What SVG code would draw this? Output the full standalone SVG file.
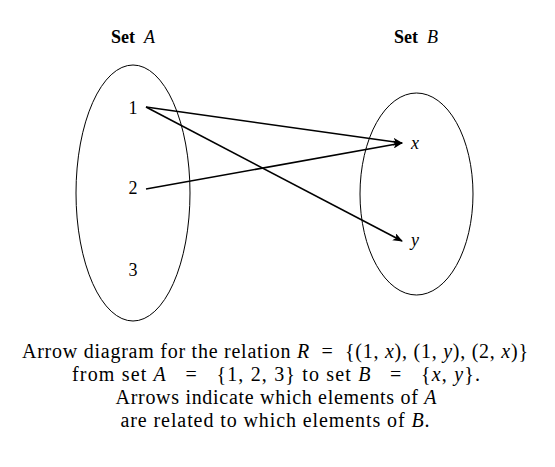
<svg xmlns="http://www.w3.org/2000/svg" width="555" height="467" viewBox="0 0 555 467">
<defs>
<style>
text{font-family:"Liberation Serif","DejaVu Serif",serif;fill:#000}
.lbl{font-size:18px;text-anchor:middle}
.b{font-weight:bold}
.i{font-style:italic}
.cap{font-size:20px;text-anchor:middle}
.set{fill:none;stroke:#000;stroke-width:1}
.arr{fill:none;stroke:#000;stroke-width:1.6;marker-end:url(#ah)}
</style>
<marker id="ah" markerWidth="10" markerHeight="8" refX="9" refY="4" orient="auto" markerUnits="userSpaceOnUse">
<path d="M0,0 L10,4 L0,8 L2.5,4 Z" fill="#000"/>
</marker>
</defs>
<rect width="555" height="467" fill="#fff"/>
<g id="setA">
<ellipse class="set" cx="133" cy="193" rx="57" ry="128"/>
<text class="lbl" x="133" y="43" xml:space="preserve"><tspan class="b">Set </tspan> <tspan class="i">A</tspan></text>
</g>
<g id="setB">
<ellipse class="set" cx="416.5" cy="194" rx="56.5" ry="101"/>
<text class="lbl" x="416" y="43" xml:space="preserve"><tspan class="b">Set </tspan> <tspan class="i">B</tspan></text>
</g>
<g id="a1"><text class="lbl" x="133" y="114">1</text></g>
<g id="a2"><text class="lbl" x="133" y="194">2</text></g>
<g id="a3"><text class="lbl" x="133" y="276">3</text></g>
<g id="bx"><text class="lbl i" x="415" y="149">x</text></g>
<g id="by"><text class="lbl i" x="415" y="246">y</text></g>
<g id="connectors">
<line class="arr" x1="146" y1="107" x2="402" y2="143"/>
<line class="arr" x1="146" y1="107" x2="402" y2="241"/>
<line class="arr" x1="146" y1="189" x2="402" y2="143"/>
</g>
<g id="caption">
<text class="cap" x="275" y="358" textLength="506" lengthAdjust="spacing" xml:space="preserve">Arrow diagram for the relation <tspan class="i">R</tspan>  =  {(1, <tspan class="i">x</tspan>), (1, <tspan class="i">y</tspan>), (2, <tspan class="i">x</tspan>)}</text>
<text class="cap" x="276" y="381" textLength="408" lengthAdjust="spacing" xml:space="preserve">from set <tspan class="i">A</tspan>   =   {1, 2, 3} to set <tspan class="i">B</tspan>   =   {<tspan class="i">x</tspan>, <tspan class="i">y</tspan>}.</text>
<text class="cap" x="276" y="404" textLength="321" lengthAdjust="spacing">Arrows indicate which elements of <tspan class="i">A</tspan></text>
<text class="cap" x="275" y="427" textLength="309" lengthAdjust="spacing">are related to which elements of <tspan class="i">B</tspan>.</text>
</g>
</svg>
